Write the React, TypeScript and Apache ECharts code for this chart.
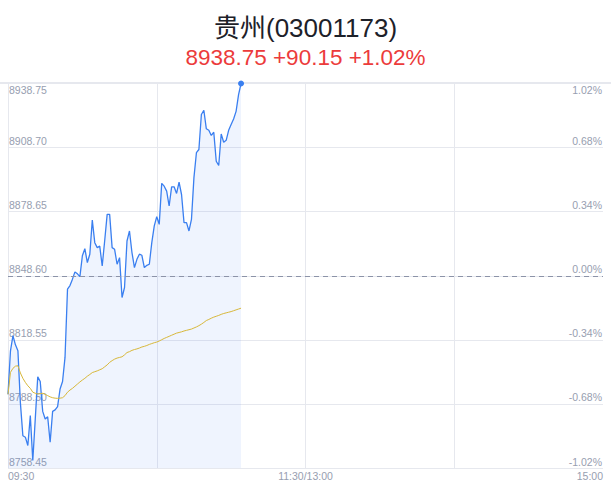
import React, { useEffect, useRef } from 'react';
import * as echarts from 'echarts';

const stockName = '贵州(03001173)';
const prevClose = 8848.6;

// minute prices from 09:30, one per minute
const prices = [
  8793, 8813.4, 8820.5, 8816.2, 8813.4, 8789, 8773.6, 8772.9, 8769, 8783,
  8762, 8781.5, 8801.2, 8799, 8785, 8781.4, 8782.5, 8770.5, 8785, 8785.7,
  8787.2, 8795.5, 8799, 8810.3, 8842.3, 8844, 8847, 8850.4, 8849.5, 8848.2,
  8858, 8861.3, 8854.8, 8858.7, 8874.7, 8864.1, 8861.8, 8862.5, 8853.2, 8865,
  8877.4, 8877.4, 8861.8, 8861, 8854, 8857.1, 8838.4, 8843.1, 8864.9, 8869.6,
  8859.5, 8852.4, 8856.3, 8858.7, 8858.2, 8852.4, 8853.5, 8854, 8864.1, 8872,
  8876.3, 8872.7, 8891.9, 8890.6, 8888.3, 8881.3, 8890.3, 8890.3, 8887.2, 8892.5,
  8886.7, 8873.5, 8873.5, 8869.6, 8875, 8894.6, 8906.3, 8907.8, 8924.2, 8926.2,
  8917.5, 8916.8, 8914.4, 8915.9, 8902.3, 8900.3, 8915.1, 8911.2, 8912.1, 8916.8,
  8919.5, 8922.1, 8925.7, 8933.5, 8938.75,
];

// average price line
const avgPrices = [
  8793, 8803.3, 8805.2, 8806.2, 8806.4, 8803, 8800.5, 8798.6, 8797, 8795.8,
  8794, 8793.5, 8793.1, 8793.3, 8793.5, 8793, 8792.4, 8791.8, 8791.4, 8791.2,
  8791.1, 8791.2, 8791.4, 8792.4, 8794, 8795, 8795.8, 8796.8, 8797.8, 8798.8,
  8799.7, 8800.5, 8801.5, 8802.3, 8803.2, 8803.6, 8804, 8804.5, 8805, 8805.9,
  8806.8, 8808, 8808.8, 8809.5, 8810, 8810.3, 8810.6, 8811.5, 8812.6, 8813,
  8813.6, 8814, 8814.3, 8814.7, 8815.2, 8815.5, 8815.9, 8816.4, 8816.8, 8817.2,
  8817.5, 8818, 8818.6, 8819.2, 8819.7, 8820.2, 8820.7, 8821.2, 8821.7, 8822,
  8822.3, 8822.7, 8823, 8823.3, 8823.6, 8824.1, 8824.6, 8825.2, 8825.9, 8826.7,
  8827.6, 8828.1, 8828.7, 8829.2, 8829.6, 8830, 8830.5, 8830.9, 8831.2, 8831.5,
  8831.8, 8832.2, 8832.6, 8833, 8833.4,
];

// x ticks every 60 minutes, 240 trading minutes
const xTickLabels = ['09:30', '', '11:30/13:00', '', '15:00'];
const yMin = 8758.45;
const yMax = 8938.75;
const yStep = 30.05;
const pctMin = -1.02;
const pctMax = 1.02;
const pctStep = 0.34;

const labelColor = '#979eb0';
const labelFont = 10.5;

const App: React.FC = () => {
  const chartRef = useRef<HTMLDivElement | null>(null);

  useEffect(() => {
    const chart = echarts.init(chartRef.current!, null, { renderer: 'svg' });

    const last = prices[prices.length - 1];
    const change = last - prevClose;
    const pct = (change / prevClose) * 100;
    const sign = change >= 0 ? '+' : '';
    const sub = `${last.toFixed(2)} ${sign}${change.toFixed(2)} ${sign}${pct.toFixed(2)}%`;

    const yRich = {
      top: { padding: [12, 0, 0, 0] },
      bot: { padding: [0, 0, 13, 0] },
    };

    const option: echarts.EChartsOption = {
      animation: false,
      title: {
        text: stockName,
        subtext: sub,
        left: 'center',
        top: 10,
        itemGap: 5,
        textStyle: {
          fontSize: 26,
          fontWeight: 'normal',
          color: '#1d2129',
          fontFamily: 'Liberation Sans, Noto Sans CJK SC, sans-serif',
        },
        subtextStyle: {
          fontSize: 22.5,
          color: '#ec3b3b',
          fontFamily: 'Liberation Sans, sans-serif',
        },
      },
      graphic: [
        {
          type: 'line',
          shape: { x1: 0, y1: 83, x2: 611, y2: 83 },
          style: { stroke: '#e6e8ee', lineWidth: 2 },
          z: 1,
        },
      ],
      grid: { left: 8, right: 8, top: 83.5, bottom: 24 },
      xAxis: {
        type: 'value',
        min: 0,
        max: 240,
        interval: 60,
        axisLine: { show: false },
        axisTick: { show: false },
        splitLine: {
          show: true,
          showMinLine: true,
          showMaxLine: false,
          lineStyle: { color: '#e6e8ee', width: 1 },
        },
        axisLabel: {
          color: labelColor,
          fontSize: labelFont,
          margin: 2,
          alignMinLabel: 'left',
          alignMaxLabel: 'right',
          formatter: (v: number) => xTickLabels[Math.round(v / 60)] ?? '',
        },
      },
      yAxis: [
        {
          type: 'value',
          min: yMin,
          max: yMax,
          interval: yStep,
          axisLine: { show: false },
          axisTick: { show: false },
          splitLine: { lineStyle: { color: '#e6e8ee', width: 1 } },
          axisLabel: {
            inside: true,
            margin: 1,
            color: labelColor,
            fontSize: labelFont,
            verticalAlign: 'middle',
            formatter: (v: number) =>
              Math.abs(v - yMax) < 1e-6 ? `{top|${v.toFixed(2)}}` : `{bot|${v.toFixed(2)}}`,
            rich: yRich,
          },
        },
        {
          type: 'value',
          position: 'right',
          min: pctMin,
          max: pctMax,
          interval: pctStep,
          axisLine: { show: false },
          axisTick: { show: false },
          splitLine: { show: false },
          axisLabel: {
            inside: true,
            margin: 1,
            color: labelColor,
            fontSize: labelFont,
            verticalAlign: 'middle',
            formatter: (v: number) =>
              Math.abs(v - pctMax) < 1e-6 ? `{top|${v.toFixed(2)}%}` : `{bot|${v.toFixed(2)}%}`,
            rich: yRich,
          },
        },
      ],
      series: [
        {
          name: 'price',
          type: 'line',
          data: prices.map((v, i) => [i, v]),
          showSymbol: false,
          lineStyle: { color: '#3a7ff0', width: 1.3 },
          itemStyle: { color: '#3a7ff0' },
          areaStyle: { color: 'rgba(58,127,240,0.12)', origin: 'start' },
          markLine: {
            silent: true,
            symbol: 'none',
            label: { show: false },
            lineStyle: { color: '#8c93a8', type: [5, 4], width: 1 },
            data: [{ yAxis: prevClose }],
          },
          markPoint: {
            symbol: 'circle',
            symbolSize: 6,
            z: 10,
            label: { show: false },
            itemStyle: { color: '#3a7ff0', borderWidth: 0 },
            data: [{ coord: [prices.length - 1, last] }],
          },
        },
        {
          name: 'avg',
          type: 'line',
          data: avgPrices.map((v, i) => [i, v]),
          showSymbol: false,
          lineStyle: { color: '#d8b83a', width: 1 },
        },
      ],
    };

    chart.setOption(option);
    return () => {
      chart.dispose();
    };
  }, []);

  return (
    <div
      ref={chartRef}
      style={{ position: 'absolute', left: 0, top: 0, width: 611, height: 492, background: '#fff' }}
    />
  );
};

export default App;
